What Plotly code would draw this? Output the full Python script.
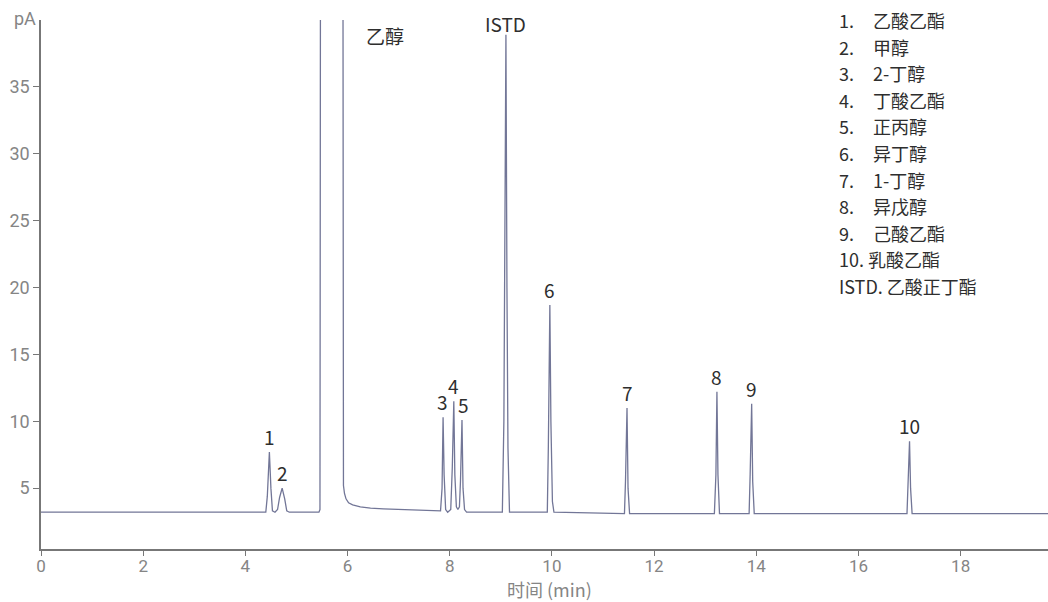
import plotly.graph_objects as go

# Chromatogram trace (time in min, signal in pA)
time_min = [0.0, 0.8, 1.5, 2.2, 3.0, 3.8, 4.40, 4.43, 4.45, 4.47, 4.50, 4.53, 4.58, 4.63, 4.67, 4.72, 4.77, 4.81, 4.86,
            5.44, 5.46, 5.47, 5.91, 5.92, 5.94, 5.97, 6.02, 6.10, 6.25, 6.45, 6.7, 7.0, 7.4, 7.80,
            7.82, 7.85, 7.87, 7.89, 7.92, 7.96, 8.02, 8.05, 8.08, 8.10, 8.13, 8.16, 8.19, 8.21, 8.24, 8.26, 8.29, 8.33,
            9.03, 9.06, 9.08, 9.10, 9.12, 9.14, 9.17,
            9.91, 9.93, 9.96, 9.98, 10.01, 10.04, 10.5, 11.0,
            11.42, 11.44, 11.47, 11.49, 11.52,
            13.18, 13.21, 13.23, 13.25, 13.28,
            13.86, 13.88, 13.91, 13.93, 13.96,
            16.95, 16.97, 17.00, 17.02, 17.05, 19.71]
signal_pa = [3.2, 3.2, 3.2, 3.25, 3.2, 3.2, 3.2, 4.4, 6.0, 7.7, 5.0, 3.3, 3.2, 3.4, 4.3, 5.0, 4.2, 3.3, 3.2,
             3.2, 3.4, 45.0, 45.0, 5.2, 4.6, 4.2, 3.9, 3.75, 3.6, 3.5, 3.45, 3.4, 3.35, 3.3,
             3.3, 5.0, 10.3, 6.0, 3.4, 3.2, 3.4, 6.5, 11.5, 6.0, 3.6, 3.4, 3.6, 5.5, 10.1, 5.0, 3.4, 3.2,
             3.2, 10.0, 25.0, 38.9, 20.0, 8.0, 3.2,
             3.2, 8.0, 18.7, 10.0, 4.0, 3.2, 3.15, 3.1,
             3.1, 5.5, 11.0, 5.0, 3.1,
             3.1, 6.0, 12.2, 6.0, 3.1,
             3.1, 6.0, 11.3, 5.5, 3.1,
             3.1, 5.0, 8.5, 5.0, 3.1, 3.1]

# Peak labels
peak_labels = ["1", "2", "3", "4", "5", "ISTD", "6", "7", "8", "9", "10"]
peak_times = [4.47, 4.72, 7.85, 8.08, 8.26, 9.10, 9.96, 11.47, 13.23, 13.91, 17.00]
peak_heights = [7.7, 5.0, 10.3, 11.5, 10.1, 38.9, 18.7, 11.0, 12.2, 11.3, 8.5]

# Compound list
legend_nums = ["1.", "2.", "3.", "4.", "5.", "6.", "7.", "8.", "9."]
legend_names = ["乙酸乙酯", "甲醇", "2-丁醇", "丁酸乙酯", "正丙醇", "异丁醇", "1-丁醇", "异戊醇", "己酸乙酯"]
legend_extra = ["10. 乳酸乙酯", "ISTD. 乙酸正丁酯"]

W, H = 1048, 602
ML, MR, MT, MB = 41, 0, 20, 53
X_RANGE = [0, 19.71]
Y_RANGE = [0.45, 40.0]

CJK = "Noto Sans CJK SC"
GRAY = "#858585"
DARK = "#2e2e2e"

fig = go.Figure()
fig.add_trace(go.Scatter(x=time_min, y=signal_pa, mode="lines",
                         line=dict(color="#727697", width=1.3),
                         hoverinfo="skip", showlegend=False))

plot_w = W - ML - MR
plot_h = H - MT - MB
def px_x(px):
    return (px - ML) / plot_w
def px_y(py):
    return 1 - (py - MT) / plot_h

ann = []
for lab, t, h in zip(peak_labels, peak_times, peak_heights):
    if lab == "ISTD":
        ann.append(dict(x=t, y=px_y(23), xref="x", yref="paper", text=lab, showarrow=False,
                        yanchor="middle", font=dict(family=CJK, size=19, color=DARK)))
        continue
    ann.append(dict(x=t, y=h, xref="x", yref="y", text=lab, showarrow=False,
                    yanchor="bottom", yshift=0, font=dict(family=CJK, size=19, color=DARK)))

ann.append(dict(x=6.73, y=px_y(35), xref="x", yref="paper", text="乙醇", showarrow=False,
                yanchor="middle", font=dict(family=CJK, size=19, color=DARK)))

spacing = 26.6
for i, (n, name) in enumerate(zip(legend_nums, legend_names)):
    yy = 20 + i * spacing
    ann.append(dict(x=px_x(837), y=px_y(yy), xref="paper", yref="paper", text=n, showarrow=False,
                    xanchor="left", yanchor="middle", font=dict(family=CJK, size=18, color=DARK)))
    ann.append(dict(x=px_x(871), y=px_y(yy), xref="paper", yref="paper", text=name, showarrow=False,
                    xanchor="left", yanchor="middle", font=dict(family=CJK, size=18, color=DARK)))
for j, s in enumerate(legend_extra):
    yy = 20 + (9 + j) * spacing
    ann.append(dict(x=px_x(837), y=px_y(yy), xref="paper", yref="paper", text=s, showarrow=False,
                    xanchor="left", yanchor="middle", font=dict(family=CJK, size=18, color=DARK)))

ann.append(dict(x=px_x(25), y=px_y(19), xref="paper", yref="paper", text="pA", showarrow=False,
                xanchor="center", yanchor="middle", font=dict(family="Roboto", size=18, color=GRAY)))
ann.append(dict(x=px_x(549), y=px_y(589), xref="paper", yref="paper", text="时间 (min)", showarrow=False,
                xanchor="center", yanchor="middle", font=dict(family=CJK, size=18, color=GRAY)))

fig.update_layout(
    width=W, height=H,
    margin=dict(l=ML, r=MR, t=MT, b=MB),
    paper_bgcolor="white", plot_bgcolor="white",
    annotations=ann,
    xaxis=dict(range=X_RANGE, tickvals=[0, 2, 4, 6, 8, 10, 12, 14, 16, 18],
               showgrid=False, zeroline=False, showline=True, linecolor="#777777", linewidth=1.5,
               ticks="outside", ticklen=5, tickcolor="#777777", ticklabelstandoff=-4,
               tickfont=dict(family="Roboto", size=17, color=GRAY)),
    yaxis=dict(range=Y_RANGE, tickvals=[5, 10, 15, 20, 25, 30, 35],
               showgrid=False, zeroline=False, showline=True, linecolor="#777777", linewidth=1.5,
               ticks="outside", ticklen=6, tickcolor="#777777",
               tickfont=dict(family="Roboto", size=18, color=GRAY)),
)

fig.write_html("out.html")
